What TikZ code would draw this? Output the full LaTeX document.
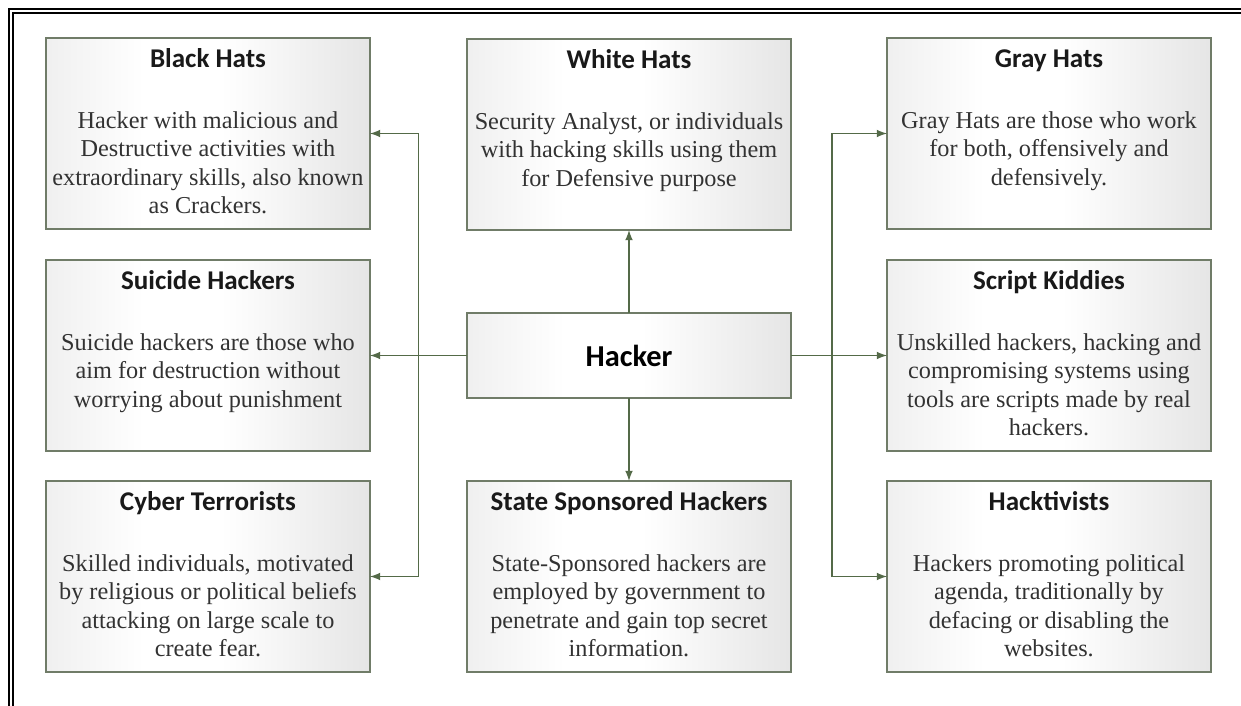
\documentclass[tikz,border=0pt]{standalone}
\usepackage{fontspec}
\setmainfont{Liberation Serif}
\newfontfamily\headfont{Carlito}
\usetikzlibrary{arrows, positioning, calc, shadows}
\definecolor{cardline}{RGB}{112,124,104}
\definecolor{linkgreen}{RGB}{84,106,72}
\definecolor{bodygray}{RGB}{50,50,50}
\pgfdeclarehorizontalshading{cardfill}{100bp}{color(0bp)=(gray!12); color(25bp)=(gray!12); color(40bp)=(white); color(52bp)=(white); color(75bp)=(gray!20); color(100bp)=(gray!20)}
\newcommand{\cardtext}[2]{\parbox[c][3.82cm][t]{6.48cm}{\centering
  {\headfont\bfseries\fontsize{15.4}{18}\selectfont\rule{0pt}{0.6cm}\color{black!90}#1\par}
  \vspace{18.6pt}
  {\fontsize{13.8}{16}\selectfont\leavevmode\color{bodygray}#2\par}}}

\begin{document}
\begin{tikzpicture}[
    card/.style={rectangle, draw=cardline, line width=1.1pt, shade, shading=cardfill, inner sep=0pt, outer sep=0pt,
        drop shadow={shadow xshift=0.8pt, shadow yshift=-0.8pt, opacity=0.2}},
    hub/.style={card, minimum width=6.48cm, minimum height=1.7cm, font=\headfont\bfseries\fontsize{17.3}{20}\selectfont},
    arrow/.style={->, >=latex, line width=1pt, draw=linkgreen}
]
\useasboundingbox (-12.58,-7.01) rectangle (12.24,7.11);

% Frame
\draw[line width=1.1pt] (-12.40,-7.1) |- (12.24,6.93);
\draw[line width=0.75pt] (-12.32,-7.1) |- (12.24,6.85);

% Centre
\node[hub] (hacker) {Hacker};

% Middle column
\node[card, above=1.66cm of hacker] (white) {\cardtext{White Hats}{Security Analyst, or individuals\\with hacking skills using them\\for Defensive purpose}};
\node[card, below=1.66cm of hacker] (state) {\cardtext{State Sponsored Hackers}{State-Sponsored hackers are\\employed by government to\\penetrate and gain top secret\\information.}};

% Left column
\node[card, left=1.94cm of hacker] (suicide) {\cardtext{Suicide Hackers}{Suicide hackers are those who\\aim for destruction without\\worrying about punishment}};
\node[card, above=0.62cm of suicide] (black) {\cardtext{Black Hats}{Hacker with malicious and\\Destructive activities with\\extraordinary skills, also known\\as Crackers.}};
\node[card, below=0.6cm of suicide] (cyber) {\cardtext{Cyber Terrorists}{Skilled individuals, motivated\\by religious or political beliefs\\attacking on large scale to\\create fear.}};

% Right column
\node[card, right=1.92cm of hacker] (script) {\cardtext{Script Kiddies}{Unskilled hackers, hacking and\\compromising systems using\\tools are scripts made by real\\hackers.}};
\node[card, above=0.62cm of script] (gray) {\cardtext{Gray Hats}{Gray Hats are those who work\\for both, offensively and\\defensively.}};
\node[card, below=0.6cm of script] (hacktiv) {\cardtext{Hacktivists}{Hackers promoting political\\agenda, traditionally by\\defacing or disabling the\\websites.}};

% Bus points
\coordinate (lbus) at ($(hacker.west)!0.5!(suicide.east)$);
\coordinate (rbus) at ([xshift=0.82cm]hacker.east);

% Arrows
\draw[arrow] (hacker) -- (white);
\draw[arrow] (hacker) -- (state);
\draw[arrow] (hacker.west) -- (suicide.east);
\draw[arrow] (lbus) |- (black.east);
\draw[arrow] (lbus) |- (cyber.east);
\draw[arrow] (hacker.east) -- (script.west);
\draw[arrow] (rbus) |- (gray.west);
\draw[arrow] (rbus) |- (hacktiv.west);

\end{tikzpicture}
\end{document}
